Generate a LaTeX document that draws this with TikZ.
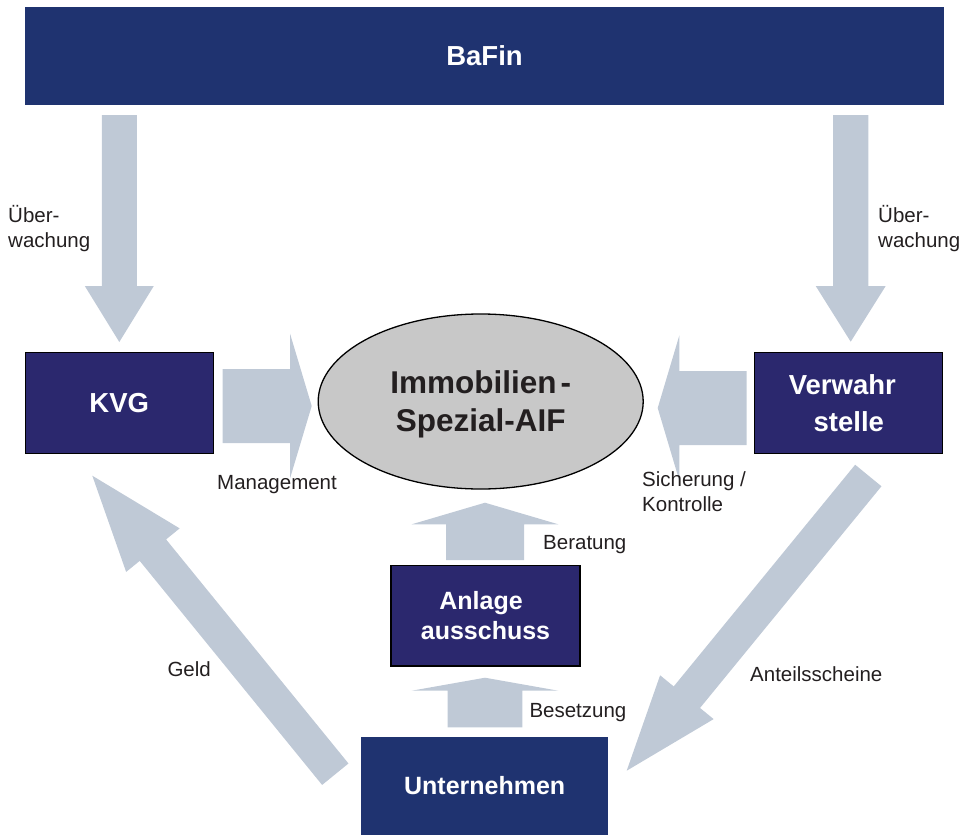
\documentclass[tikz,border=0pt]{standalone}
\usepackage{fontspec}
\setmainfont{Liberation Sans}
\usetikzlibrary{calc,shapes.geometric}
\definecolor{bafinblue}{RGB}{31,51,112}
\definecolor{boxblue}{RGB}{43,40,110}
\definecolor{flowgray}{RGB}{191,201,214}
\definecolor{aifgray}{RGB}{200,200,200}
\definecolor{labelgray}{RGB}{35,31,32}
% block arrow: tail, tip, shaft half width, head half width, head length
\newcommand{\flowarrow}[5]{%
  \path ($(#2)!#5!(#1)$) coordinate (fh);
  \fill[flow] ($(#1)!#3!90:(#2)$) -- ($(fh)!#3!-90:(#1)$) -- ($(fh)!#4!-90:(#1)$) -- (#2)
    -- ($(fh)!#4!90:(#1)$) -- ($(fh)!#3!90:(#1)$) -- ($(#1)!#3!-90:(#2)$) -- cycle;}
\begin{document}
\begin{tikzpicture}[x=1pt, y=-1pt, line join=miter,
    flow/.style={fill=flowgray},
    topbox/.style={rectangle, fill=bafinblue, text=white, inner sep=0pt, outer sep=0pt},
    unitbox/.style={rectangle, fill=boxblue, draw=black, line width=1.3pt, text=white, inner sep=0pt, outer sep=0pt, align=center,
      font=\bfseries\fontsize{27.5}{36.5}\selectfont},
    lbl/.style={text=labelgray, inner sep=0pt, align=left, font=\fontsize{20.5}{25}\selectfont}]
  \useasboundingbox (0,0) rectangle (966,835);
  % --- boxes
  \node[topbox, minimum width=919pt, minimum height=98pt, font=\bfseries\fontsize{27.5}{33}\selectfont] (bafin) at (484.5,56) {BaFin};
  \node[unitbox, minimum width=188pt, minimum height=100.5pt] (kvg) at (119.2,403) {KVG};
  \node[unitbox, minimum width=188pt, minimum height=100.5pt] (verwahr) at (848.8,403) {Verwahr\hspace*{13pt}\\stelle};
  \node[unitbox, minimum width=189pt, minimum height=100.5pt, font=\bfseries\fontsize{25}{30.5}\selectfont] (anlage) at (485.5,615.8) {Anlage\hspace*{9pt}\\ausschuss};
  \node[topbox, minimum width=247.3pt, minimum height=98pt, font=\bfseries\fontsize{25}{30}\selectfont] (unternehmen) at (484.7,786) {Unternehmen};
  \node[ellipse, fill=aifgray, draw=black, line width=1.3pt, minimum width=325pt, minimum height=175pt, inner sep=0pt,
    text=labelgray, text depth=0pt, align=center, font=\bfseries\fontsize{31.5}{38}\selectfont] (aif) at (480.7,401.5) {Immobilien\kern4pt-\\Spezial-AIF};
  % --- arrow ends
  \coordinate (uebL-t) at (119.3,115);  \coordinate (uebL-p) at (119.3,342);
  \coordinate (uebR-t) at (850.7,115);  \coordinate (uebR-p) at (850.7,341.7);
  \coordinate (mgmt-t) at (222.7,406);  \coordinate (mgmt-p) at (311.7,406);
  \coordinate (sich-t) at (746.7,408);  \coordinate (sich-p) at (657.7,408);
  \coordinate (berat-t) at (485,560);   \coordinate (berat-p) at (485,502.7);
  \coordinate (besetz-t) at (485,727.3); \coordinate (besetz-p) at (485,677.7);
  \coordinate (geld-t) at (335.3,774.2); \coordinate (geld-p) at (92.3,475.7);
  \coordinate (anteil-t) at (868.3,475.5); \coordinate (anteil-p) at (626.7,770.7);
  % --- arrows
  \flowarrow{uebL-t}{uebL-p}{17.5pt}{34.5pt}{56pt}
  \flowarrow{uebR-t}{uebR-p}{17.6pt}{35pt}{55.7pt}
  \flowarrow{mgmt-t}{mgmt-p}{37pt}{72.5pt}{21.7pt}
  \flowarrow{sich-t}{sich-p}{37pt}{72.5pt}{21.6pt}
  \flowarrow{berat-t}{berat-p}{39pt}{73.3pt}{21.6pt}
  \flowarrow{besetz-t}{besetz-p}{37.3pt}{73.3pt}{13pt}
  \flowarrow{geld-t}{geld-p}{17pt}{34.5pt}{96pt}
  \flowarrow{anteil-t}{anteil-p}{17pt}{34.6pt}{95pt}
  % --- labels
  \node[lbl, anchor=west] (uebL) at (8,229) {Über-\\wachung};
  \node[lbl, anchor=west] (uebR) at (878,229) {Über-\\wachung};
  \node[lbl, anchor=base west] (mgmt) at (217,489.3) {Management};
  \node[lbl, anchor=west] (sich) at (642,492) {Sicherung /\\Kontrolle};
  \node[lbl, anchor=base west] (berat) at (543,549.3) {Beratung};
  \node[lbl, anchor=base west] (besetz) at (529.3,717.3) {Besetzung};
  \node[lbl, anchor=base west] (geld) at (167.3,676.7) {Geld};
  \node[lbl, anchor=base west] (anteil) at (750,681.7) {Anteilsscheine};
\end{tikzpicture}
\end{document}
